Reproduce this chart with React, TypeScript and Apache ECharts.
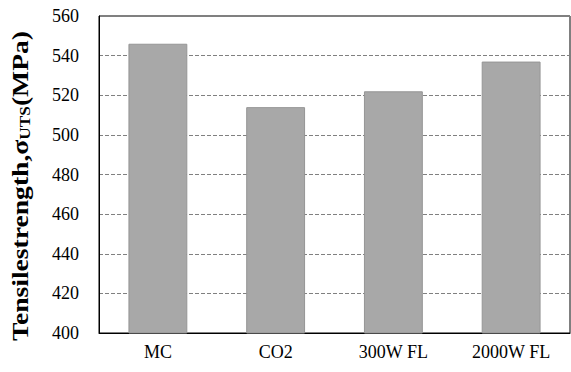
import React, { useEffect, useRef } from "react";
import * as echarts from "echarts";

const categories = ["MC", "CO2", "300W FL", "2000W FL"];
const tensileValues = [546, 514, 522, 537];
const yTicks = [400, 420, 440, 460, 480, 500, 520, 540, 560];
const yTitle = "Tensilestrength,σ{sub|UTS}(MPa)";

export default function App() {
  const ref = useRef<HTMLDivElement>(null);
  useEffect(() => {
    if (!ref.current) return;
    const chart = echarts.init(ref.current, null, { renderer: "svg" });
    const serif = "Liberation Serif";
    chart.setOption({
      animation: false,
      backgroundColor: "#ffffff",
      grid: {
        left: 99,
        right: 1,
        top: 16,
        bottom: 39,
        show: true,
        borderColor: "#000000",
        borderWidth: 1,
      },
      xAxis: {
        type: "category",
        data: categories,
        axisLine: { show: true, lineStyle: { color: "#000", width: 1 } },
        axisTick: { show: false },
        axisLabel: {
          color: "#000",
          fontFamily: serif,
          fontSize: 18,
          margin: 10,
        },
      },
      yAxis: {
        type: "value",
        min: yTicks[0],
        max: yTicks[yTicks.length - 1],
        interval: 20,
        axisLine: { show: true, lineStyle: { color: "#000", width: 1 } },
        axisTick: { show: false },
        axisLabel: {
          color: "#000",
          fontFamily: serif,
          fontSize: 18,
          margin: 20,
        },
        splitLine: {
          show: true,
          lineStyle: { color: "#808080", width: 1, type: [4, 2] },
        },
      },
      graphic: [
        {
          type: "text",
          x: 20,
          y: 186,
          rotation: Math.PI / 2,
          scaleX: 1.15,
          style: {
            text: yTitle,
            fill: "#000",
            fontFamily: serif,
            fontSize: 24,
            fontWeight: "bold",
            align: "center",
            verticalAlign: "middle",
            rich: {
              sub: {
                fontFamily: serif,
                fontSize: 15,
                fontWeight: "bold",
                fill: "#000",
                verticalAlign: "bottom",
                padding: [9, 0, 0, 0],
              },
            },
          },
        },
      ],
      series: [
        {
          type: "bar",
          data: tensileValues,
          barWidth: "50%",
          itemStyle: {
            color: "#a8a8a8",
            borderColor: "#959595",
            borderWidth: 1,
          },
        },
      ],
    });
    return () => chart.dispose();
  }, []);
  return (
    <div
      ref={ref}
      style={{ position: "fixed", left: 0, top: 0, width: 571, height: 372 }}
    />
  );
}
